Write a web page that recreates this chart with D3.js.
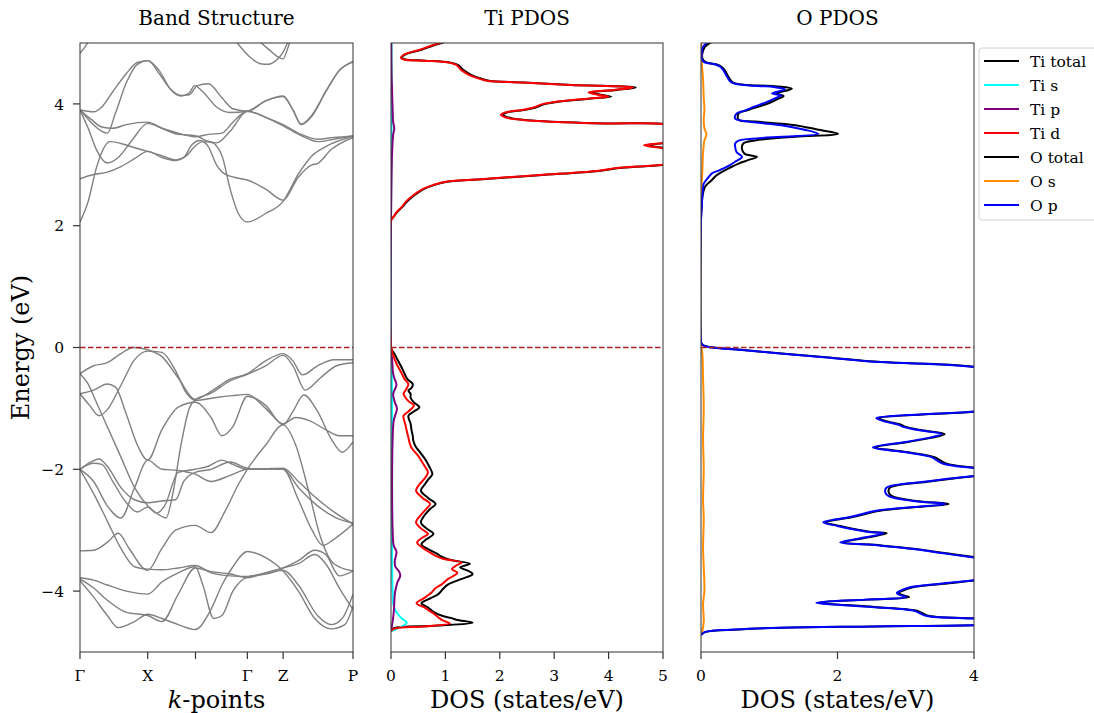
<!DOCTYPE html>
<html><head><meta charset="utf-8">
<script src="https://cdn.jsdelivr.net/npm/d3@7"></script>
<style>
body{margin:0;background:#fff}
svg{display:block}
text{font-family:"DejaVu Serif",serif;fill:#000}
</style>
</head><body>
<svg id="chart" width="1094" height="713"></svg>
<script>
// ---------- band structure: [k (fraction of path), E (eV)] ----------
const kTicks = [0, 0.248, 0.423, 0.613, 0.744, 1.0];
const kLabels = ["Γ", "X", "", "Γ", "Z", "P"];

const bands = [
  // valence
  [[0,-0.43],[0.05,-0.3],[0.1,-0.25],[0.15,-0.1],[0.195,0.0],[0.248,-0.04],[0.3,-0.15],[0.36,-0.5],[0.422,-0.85],[0.48,-0.72],[0.55,-0.52],[0.613,-0.43],[0.68,-0.22],[0.744,-0.1],[0.78,-0.22],[0.815,-0.45],[0.87,-0.3],[0.93,-0.2],[1,-0.2]],
  [[0,-0.76],[0.035,-0.95],[0.07,-1.12],[0.1,-1.02],[0.15,-0.62],[0.2,-0.2],[0.248,-0.06],[0.3,-0.08],[0.35,-0.38],[0.39,-0.75],[0.422,-0.87],[0.5,-0.82],[0.56,-0.79],[0.613,-0.77],[0.68,-1.0],[0.744,-1.25],[0.79,-1.15],[0.84,-1.2],[0.9,-1.35],[0.95,-1.45],[1,-1.45]],
  [[0,-0.43],[0.03,-0.6],[0.06,-0.9],[0.1,-1.3],[0.15,-1.8],[0.2,-2.3],[0.248,-2.6],[0.29,-2.75],[0.315,-2.8],[0.34,-2.4],[0.37,-1.6],[0.4,-1.0],[0.422,-0.86],[0.48,-0.75],[0.55,-0.55],[0.613,-0.44],[0.68,-0.3],[0.744,-0.13],[0.78,-0.3],[0.825,-0.7],[0.88,-0.5],[0.94,-0.3],[1,-0.25]],
  [[0,-0.76],[0.05,-0.7],[0.1,-0.6],[0.13,-0.65],[0.17,-1.1],[0.21,-1.6],[0.248,-1.85],[0.3,-1.35],[0.36,-0.98],[0.422,-0.9],[0.48,-1.15],[0.52,-1.45],[0.56,-1.3],[0.613,-0.8],[0.68,-0.95],[0.744,-1.27],[0.78,-1.05],[0.82,-0.78],[0.87,-1.05],[0.92,-1.5],[0.96,-1.72],[1,-1.55]],
  [[0,-2.0],[0.04,-1.88],[0.07,-1.83],[0.1,-1.95],[0.15,-2.3],[0.2,-2.5],[0.248,-2.55],[0.3,-2.52],[0.35,-2.5],[0.38,-2.2],[0.422,-2.05],[0.48,-2.0],[0.55,-1.88],[0.613,-1.98],[0.68,-2.0],[0.744,-2.0],[0.8,-2.3],[0.87,-2.6],[0.94,-2.8],[1,-2.88]],
  [[0,-2.0],[0.05,-1.9],[0.08,-1.92],[0.12,-2.2],[0.17,-2.55],[0.21,-2.7],[0.248,-2.62],[0.28,-2.72],[0.31,-2.6],[0.36,-2.05],[0.422,-2.0],[0.47,-1.95],[0.52,-1.85],[0.56,-1.92],[0.613,-2.0],[0.68,-2.0],[0.744,-2.0],[0.8,-2.5],[0.85,-3.0],[0.89,-3.25],[0.93,-3.15],[1,-2.9]],
  [[0,-2.0],[0.05,-2.2],[0.1,-2.6],[0.15,-2.8],[0.2,-2.3],[0.248,-1.85],[0.3,-2.0],[0.36,-2.02],[0.422,-2.08],[0.48,-2.2],[0.55,-2.1],[0.613,-2.0],[0.68,-1.99],[0.744,-1.98],[0.8,-2.2],[0.86,-2.45],[0.93,-2.7],[1,-2.9]],
  [[0,-2.0],[0.05,-2.4],[0.1,-2.85],[0.15,-3.3],[0.2,-3.6],[0.248,-3.64],[0.3,-3.65],[0.36,-3.62],[0.422,-3.58],[0.48,-3.7],[0.55,-3.75],[0.613,-3.76],[0.68,-3.7],[0.744,-3.62],[0.8,-3.5],[0.86,-3.33],[0.9,-3.4],[0.95,-3.75],[1,-3.67]],
  [[0,-3.34],[0.05,-3.33],[0.1,-3.2],[0.14,-3.05],[0.18,-3.3],[0.248,-3.66],[0.3,-3.3],[0.35,-3.0],[0.422,-2.92],[0.48,-3.04],[0.53,-2.7],[0.58,-2.25],[0.613,-2.0],[0.68,-1.6],[0.744,-1.27],[0.79,-1.6],[0.84,-2.4],[0.88,-3.1],[0.93,-3.55],[1,-3.67]],
  [[0,-3.78],[0.05,-3.82],[0.1,-3.9],[0.17,-4.0],[0.248,-4.05],[0.3,-3.85],[0.36,-3.7],[0.422,-3.6],[0.45,-3.9],[0.49,-4.45],[0.52,-4.4],[0.56,-4.0],[0.613,-3.77],[0.68,-3.72],[0.744,-3.66],[0.8,-3.9],[0.87,-4.4],[0.92,-4.55],[0.96,-4.45],[1,-4.05]],
  [[0,-3.8],[0.05,-3.95],[0.1,-4.15],[0.17,-4.35],[0.248,-4.4],[0.3,-4.5],[0.36,-4.05],[0.422,-3.62],[0.48,-3.68],[0.55,-3.72],[0.613,-3.78],[0.68,-3.7],[0.744,-3.62],[0.8,-3.55],[0.86,-3.4],[0.9,-3.55],[0.95,-3.95],[1,-4.3]],
  [[0,-3.83],[0.05,-4.1],[0.1,-4.4],[0.14,-4.6],[0.2,-4.5],[0.248,-4.38],[0.3,-4.45],[0.36,-4.55],[0.422,-4.63],[0.48,-4.3],[0.52,-3.9],[0.56,-3.6],[0.613,-3.35],[0.68,-3.45],[0.744,-3.67],[0.8,-4.0],[0.86,-4.45],[0.92,-4.62],[0.97,-4.55],[1,-4.25]],
  // conduction
  [[0,2.06],[0.03,2.4],[0.06,2.95],[0.09,3.3],[0.11,3.38],[0.15,3.35],[0.2,3.28],[0.248,3.22],[0.3,3.15],[0.35,3.08],[0.39,3.15],[0.42,3.3],[0.45,3.38],[0.48,3.37],[0.52,3.15],[0.55,2.6],[0.58,2.2],[0.613,2.06],[0.68,2.2],[0.744,2.4],[0.8,2.85],[0.85,3.15],[0.9,3.3],[1,3.47]],
  [[0,2.77],[0.05,2.84],[0.1,2.88],[0.15,2.97],[0.2,3.1],[0.248,3.22],[0.3,3.12],[0.35,3.07],[0.38,3.12],[0.41,3.33],[0.44,3.4],[0.47,3.3],[0.5,3.0],[0.53,2.85],[0.58,2.78],[0.613,2.75],[0.68,2.6],[0.744,2.42],[0.8,2.8],[0.85,3.0],[0.87,3.02],[0.92,3.25],[1,3.45]],
  [[0,3.9],[0.03,3.6],[0.06,3.25],[0.1,3.03],[0.14,3.12],[0.19,3.4],[0.248,3.68],[0.3,3.6],[0.36,3.52],[0.422,3.46],[0.47,3.5],[0.52,3.52],[0.56,3.7],[0.613,3.88],[0.68,3.78],[0.744,3.66],[0.81,3.5],[0.87,3.42],[0.93,3.45],[1,3.47]],
  [[0,3.9],[0.04,3.7],[0.08,3.55],[0.1,3.52],[0.13,3.85],[0.17,4.35],[0.21,4.65],[0.248,4.71],[0.29,4.5],[0.33,4.25],[0.37,4.14],[0.4,4.15],[0.43,4.3],[0.47,4.33],[0.52,4.1],[0.56,3.92],[0.613,3.88],[0.68,4.05],[0.744,4.13],[0.78,3.9],[0.81,3.66],[0.85,3.8],[0.9,4.2],[0.95,4.55],[1,4.69]],
  [[0,3.9],[0.05,3.87],[0.08,3.95],[0.12,4.2],[0.17,4.5],[0.21,4.68],[0.248,4.71],[0.29,4.55],[0.33,4.25],[0.37,4.13],[0.4,4.18],[0.42,4.3],[0.45,4.2],[0.5,3.95],[0.55,3.86],[0.613,3.88],[0.68,4.05],[0.744,4.12],[0.78,3.9],[0.81,3.67],[0.85,3.82],[0.9,4.2],[0.95,4.55],[1,4.7]],
  [[0,3.9],[0.04,3.75],[0.08,3.62],[0.12,3.6],[0.17,3.66],[0.248,3.7],[0.3,3.6],[0.36,3.5],[0.422,3.48],[0.46,3.4],[0.5,3.36],[0.55,3.55],[0.613,3.88],[0.68,3.78],[0.744,3.64],[0.81,3.48],[0.87,3.38],[0.93,3.42],[1,3.48]],
  [[0,4.83],[0.02,4.95],[0.04,5.1],[0.06,5.3]],
  [[0.5,5.4],[0.56,5.1],[0.585,4.95],[0.62,4.78],[0.66,4.66],[0.69,4.65],[0.72,4.72],[0.744,4.85],[0.77,5.1],[0.8,5.3]],
  [[0.6,5.3],[0.64,5.1],[0.69,4.9],[0.73,4.76],[0.744,4.74],[0.76,4.9],[0.78,5.2]]
];

// ---------- projected DOS: [E (eV), DOS (states/eV)] ----------
const tiTotal = [[-4.66,0],[-4.61,0.05],[-4.57,0.8],[-4.52,1.5],[-4.47,1.2],[-4.44,1.1],[-4.41,0.95],[-4.34,0.78],[-4.27,0.68],[-4.2,0.56],[-4.12,0.72],[-4.05,0.87],[-3.97,0.95],[-3.89,1.05],[-3.8,1.3],[-3.72,1.5],[-3.66,1.4],[-3.61,1.27],[-3.55,1.45],[-3.49,1.1],[-3.43,0.92],[-3.39,0.85],[-3.32,0.7],[-3.23,0.56],[-3.15,0.65],[-3.06,0.78],[-2.97,0.65],[-2.87,0.55],[-2.75,0.62],[-2.65,0.72],[-2.57,0.82],[-2.47,0.68],[-2.35,0.55],[-2.25,0.62],[-2.15,0.7],[-2.08,0.76],[-1.95,0.7],[-1.85,0.64],[-1.75,0.56],[-1.62,0.45],[-1.53,0.41],[-1.45,0.4],[-1.37,0.38],[-1.25,0.36],[-1.12,0.32],[-1.05,0.42],[-0.98,0.52],[-0.9,0.42],[-0.82,0.36],[-0.76,0.36],[-0.71,0.32],[-0.66,0.38],[-0.6,0.4],[-0.52,0.3],[-0.43,0.25],[-0.3,0.18],[-0.2,0.12],[-0.1,0.06],[-0.03,0.01],[0.02,0],
  [2.08,0],[2.15,0.05],[2.22,0.11],[2.31,0.21],[2.4,0.3],[2.5,0.43],[2.6,0.6],[2.67,0.8],[2.72,1.03],[2.77,1.8],[2.83,2.72],[2.9,3.82],[2.95,4.25],[3.0,5.05],[3.08,5.65],[3.18,5.45],[3.27,5.05],[3.32,4.7],[3.36,5.05],[3.45,5.55],[3.6,5.35],[3.67,5.05],[3.68,3.95],[3.72,2.72],[3.76,2.23],[3.8,2.09],[3.82,2.06],[3.86,2.14],[3.9,2.44],[3.94,2.66],[4.0,2.84],[4.06,3.33],[4.1,3.84],[4.12,4.05],[4.15,3.85],[4.19,3.68],[4.23,4.15],[4.27,4.5],[4.31,3.33],[4.35,2.44],[4.38,1.8],[4.42,1.64],[4.47,1.49],[4.55,1.34],[4.64,1.23],[4.68,1.08],[4.71,0.63],[4.73,0.26],[4.76,0.2],[4.8,0.24],[4.83,0.31],[4.89,0.56],[4.95,0.75],[5.0,0.93],[5.1,1.33]];

const tiS = [[-4.66,0],[-4.6,0.15],[-4.52,0.29],[-4.45,0.2],[-4.38,0.13],[-4.3,0.07],[-4.2,0.04],[-4.0,0.03],[-3.6,0.02],[-3.0,0.02],[-2.0,0.02],[-1.0,0.02],[-0.5,0.015],[-0.2,0.01],[0,0],[2.1,0],[3.0,0.005],[4.0,0.01],[5.0,0.01]];

const tiP = [[-4.66,0],[-4.6,0.01],[-4.5,0.03],[-4.35,0.05],[-4.2,0.06],[-4.05,0.07],[-3.95,0.09],[-3.85,0.12],[-3.75,0.17],[-3.68,0.15],[-3.6,0.08],[-3.5,0.07],[-3.42,0.09],[-3.35,0.1],[-3.25,0.05],[-3.0,0.03],[-2.5,0.02],[-2.0,0.02],[-1.5,0.03],[-1.2,0.05],[-1.0,0.11],[-0.9,0.07],[-0.76,0.04],[-0.65,0.09],[-0.6,0.1],[-0.5,0.06],[-0.43,0.04],[-0.2,0.02],[0,0],[2.1,0],[2.8,0.01],[3.2,0.02],[3.5,0.04],[3.6,0.06],[3.7,0.04],[3.9,0.03],[4.2,0.02],[4.5,0.01],[5.0,0.005]];

const tiD = [[-4.66,0],[-4.62,0.05],[-4.58,0.6],[-4.53,1.08],[-4.48,0.95],[-4.44,0.88],[-4.38,0.8],[-4.32,0.7],[-4.27,0.62],[-4.2,0.47],[-4.12,0.6],[-4.02,0.75],[-3.95,0.82],[-3.89,0.93],[-3.8,1.05],[-3.7,1.22],[-3.64,1.12],[-3.58,1.2],[-3.53,1.3],[-3.47,0.95],[-3.42,0.82],[-3.39,0.76],[-3.3,0.6],[-3.2,0.48],[-3.12,0.58],[-3.06,0.68],[-2.97,0.55],[-2.87,0.46],[-2.75,0.55],[-2.65,0.65],[-2.57,0.72],[-2.47,0.58],[-2.35,0.46],[-2.25,0.52],[-2.15,0.62],[-2.05,0.68],[-1.95,0.62],[-1.85,0.55],[-1.78,0.5],[-1.65,0.38],[-1.59,0.35],[-1.48,0.32],[-1.37,0.29],[-1.25,0.26],[-1.12,0.23],[-1.05,0.32],[-0.95,0.42],[-0.88,0.32],[-0.8,0.25],[-0.76,0.23],[-0.7,0.27],[-0.6,0.32],[-0.52,0.25],[-0.43,0.2],[-0.3,0.12],[-0.2,0.07],[-0.1,0.03],[-0.03,0.01],[0.02,0],
  [2.08,0],[2.15,0.05],[2.22,0.1],[2.31,0.2],[2.4,0.28],[2.5,0.41],[2.6,0.58],[2.67,0.78],[2.72,1.0],[2.77,1.76],[2.83,2.68],[2.9,3.78],[2.95,4.2],[3.0,5.0],[3.08,5.6],[3.18,5.4],[3.27,5.0],[3.32,4.65],[3.36,5.0],[3.45,5.5],[3.6,5.3],[3.67,5.0],[3.68,3.9],[3.72,2.68],[3.76,2.19],[3.8,2.05],[3.82,2.02],[3.86,2.1],[3.9,2.4],[3.94,2.62],[4.0,2.8],[4.06,3.29],[4.1,3.8],[4.12,4.0],[4.15,3.8],[4.19,3.63],[4.23,4.1],[4.27,4.45],[4.31,3.29],[4.35,2.4],[4.38,1.76],[4.42,1.6],[4.47,1.45],[4.55,1.3],[4.64,1.2],[4.68,1.05],[4.71,0.6],[4.73,0.23],[4.76,0.18],[4.8,0.22],[4.83,0.29],[4.89,0.53],[4.95,0.72],[5.0,0.9],[5.1,1.3]];

const oTotal = [[-4.72,0],[-4.67,0.07],[-4.63,0.55],[-4.6,1.2],[-4.58,2.55],[-4.56,4.05],[-4.52,5.05],[-4.48,4.65],[-4.45,4.05],[-4.41,3.35],[-4.36,3.24],[-4.32,3.15],[-4.26,2.54],[-4.19,1.72],[-4.14,2.44],[-4.1,3.05],[-4.06,2.94],[-4.03,2.9],[-3.98,2.99],[-3.94,3.09],[-3.88,3.55],[-3.82,4.05],[-3.7,4.85],[-3.55,4.65],[-3.45,4.05],[-3.38,3.6],[-3.31,3.15],[-3.25,2.64],[-3.2,2.08],[-3.14,2.34],[-3.05,2.72],[-3.03,2.5],[-2.98,2.24],[-2.93,2.04],[-2.87,1.83],[-2.78,2.24],[-2.68,2.62],[-2.62,3.15],[-2.57,3.63],[-2.52,3.15],[-2.44,2.8],[-2.38,2.75],[-2.3,2.77],[-2.2,3.35],[-2.11,4.05],[-2.05,4.65],[-1.98,4.05],[-1.94,3.75],[-1.91,3.6],[-1.85,3.5],[-1.8,3.42],[-1.72,3.04],[-1.64,2.56],[-1.55,3.04],[-1.48,3.39],[-1.42,3.57],[-1.36,3.24],[-1.3,2.99],[-1.27,2.94],[-1.2,2.69],[-1.16,2.61],[-1.1,3.24],[-1.05,4.05],[-0.9,4.85],[-0.6,5.25],[-0.32,4.04],[-0.24,2.65],[-0.16,1.83],[-0.1,1.18],[-0.04,0.62],[0.02,0.07],[0.06,0.01],[0.1,0],
  [2.1,0],[2.3,0.01],[2.47,0.02],[2.64,0.06],[2.75,0.16],[2.82,0.22],[2.88,0.3],[2.95,0.42],[3.02,0.55],[3.08,0.7],[3.13,0.82],[3.18,0.64],[3.26,0.6],[3.35,0.62],[3.4,0.79],[3.46,1.38],[3.51,2.01],[3.58,1.7],[3.65,1.38],[3.71,0.79],[3.74,0.55],[3.84,0.55],[3.9,0.69],[4.01,0.99],[4.08,1.12],[4.13,1.21],[4.17,1.11],[4.25,1.33],[4.29,1.08],[4.35,0.47],[4.45,0.4],[4.55,0.35],[4.61,0.3],[4.65,0.22],[4.69,0.06],[4.75,0.02],[4.83,0.02],[4.94,0.06],[5.02,0.16],[5.1,0.25]];

const oS = [[-4.72,0],[-4.65,0.02],[-4.5,0.04],[-4.2,0.03],[-4.0,0.05],[-3.6,0.04],[-3.3,0.03],[-2.8,0.04],[-2.5,0.03],[-2.0,0.04],[-1.5,0.03],[-1.0,0.04],[-0.5,0.03],[-0.1,0.02],[0.05,0],[2.2,0],[2.7,0.01],[2.9,0.02],[3.2,0.03],[3.4,0.05],[3.5,0.08],[3.6,0.05],[3.75,0.04],[3.9,0.05],[4.1,0.04],[4.4,0.03],[4.7,0.01],[5.0,0]];

const oP = [[-4.72,0],[-4.67,0.06],[-4.63,0.5],[-4.6,1.16],[-4.58,2.5],[-4.56,4.0],[-4.52,5.0],[-4.48,4.6],[-4.45,4.0],[-4.41,3.31],[-4.36,3.2],[-4.32,3.11],[-4.26,2.5],[-4.19,1.69],[-4.14,2.4],[-4.1,3.01],[-4.06,2.9],[-4.03,2.87],[-3.98,2.95],[-3.94,3.05],[-3.88,3.5],[-3.82,4.0],[-3.7,4.8],[-3.55,4.6],[-3.45,4.0],[-3.38,3.55],[-3.31,3.11],[-3.25,2.6],[-3.2,2.04],[-3.14,2.3],[-3.05,2.67],[-3.03,2.45],[-2.98,2.2],[-2.93,2.0],[-2.87,1.79],[-2.78,2.2],[-2.68,2.57],[-2.62,3.1],[-2.57,3.58],[-2.52,3.1],[-2.44,2.75],[-2.38,2.7],[-2.3,2.72],[-2.2,3.3],[-2.11,4.0],[-2.05,4.6],[-1.98,4.0],[-1.94,3.7],[-1.91,3.55],[-1.85,3.45],[-1.8,3.38],[-1.72,3.0],[-1.64,2.52],[-1.55,3.0],[-1.48,3.35],[-1.42,3.53],[-1.36,3.2],[-1.3,2.95],[-1.27,2.9],[-1.2,2.65],[-1.16,2.57],[-1.1,3.2],[-1.05,4.0],[-0.9,4.8],[-0.6,5.2],[-0.32,4.0],[-0.24,2.62],[-0.16,1.8],[-0.1,1.16],[-0.04,0.6],[0.02,0.06],[0.06,0.01],[0.1,0],
  [2.1,0],[2.3,0.01],[2.5,0.02],[2.62,0.03],[2.69,0.04],[2.78,0.1],[2.86,0.16],[2.9,0.25],[2.94,0.33],[3.0,0.43],[3.05,0.5],[3.13,0.6],[3.21,0.52],[3.3,0.5],[3.35,0.5],[3.4,0.56],[3.44,0.9],[3.46,1.18],[3.51,1.72],[3.58,1.5],[3.65,1.18],[3.71,0.69],[3.76,0.5],[3.84,0.52],[3.89,0.64],[3.95,0.77],[4.03,0.96],[4.1,1.1],[4.14,1.18],[4.17,1.04],[4.24,1.23],[4.28,1.04],[4.35,0.45],[4.45,0.38],[4.55,0.33],[4.61,0.28],[4.65,0.2],[4.69,0.04],[4.75,0.01],[4.83,0.01],[4.94,0.03],[5.02,0.11],[5.1,0.2]];

const energyTicks = [-4, -2, 0, 2, 4];
const tiTicks = [0, 1, 2, 3, 4, 5];
const oTicks = [0, 2, 4];

const legendItems = [
  {label: "Ti total", color: "#000000"},
  {label: "Ti s", color: "#00ffff"},
  {label: "Ti p", color: "#800080"},
  {label: "Ti d", color: "#ff0000"},
  {label: "O total", color: "#000000"},
  {label: "O s", color: "#ff8c00"},
  {label: "O p", color: "#0000ff"}
];

// ---------- layout ----------
const svg = d3.select("#chart");
const plotTop = 43, plotBottom = 652;
const y = d3.scaleLinear().domain([-5, 5]).range([plotBottom, plotTop]);
const xBand = d3.scaleLinear().domain([0, 1]).range([80, 353]);
const xTi = d3.scaleLinear().domain([0, 5]).range([391, 663]);
const xO = d3.scaleLinear().domain([0, 4]).range([701, 974]);

const spine = "#333333";
const defs = svg.append("defs");

function makePanel(id, x) {
  const [x0, x1] = x.range();
  defs.append("clipPath").attr("id", id)
    .append("rect").attr("x", x0).attr("y", plotTop).attr("width", x1 - x0).attr("height", plotBottom - plotTop);
  const g = svg.append("g");
  const inner = g.append("g").attr("clip-path", `url(#${id})`);
  return {g, inner, x0, x1};
}

// dashed Fermi level at E = 0
function fermi(p) {
  p.inner.append("line")
    .attr("x1", p.x0).attr("x2", p.x1).attr("y1", y(0)).attr("y2", y(0))
    .attr("stroke", "#b22222").attr("stroke-width", 1.3).attr("stroke-dasharray", "5.5,2.5");
}

function frame(p) {
  p.g.append("rect").attr("x", p.x0).attr("y", plotTop)
    .attr("width", p.x1 - p.x0).attr("height", plotBottom - plotTop)
    .attr("fill", "none").attr("stroke", spine).attr("stroke-width", 1);
}

function xAxis(p, scale, ticks, labels) {
  const ax = p.g.append("g");
  ticks.forEach((t, i) => {
    const xx = scale(t);
    ax.append("line").attr("x1", xx).attr("x2", xx).attr("y1", plotBottom).attr("y2", plotBottom + 7)
      .attr("stroke", spine).attr("stroke-width", 1.2);
    ax.append("text").attr("x", xx).attr("y", plotBottom + 29).attr("text-anchor", "middle")
      .attr("font-size", 15.5).text(labels ? labels[i] : t);
  });
}

function title(p, txt) {
  svg.append("text").attr("x", (p.x0 + p.x1) / 2).attr("y", 25).attr("text-anchor", "middle")
    .attr("font-size", 20).text(txt);
}

// ---------- band structure panel ----------
const pb = makePanel("clipBand", xBand);
const bandLine = d3.line().x(d => xBand(d[0])).y(d => y(d[1])).curve(d3.curveMonotoneX);
pb.inner.selectAll("path.band").data(bands).join("path")
  .attr("class", "band").attr("d", bandLine)
  .attr("fill", "none").attr("stroke", "#808080").attr("stroke-width", 1.4);
fermi(pb);
frame(pb);
xAxis(pb, xBand, kTicks, kLabels);
energyTicks.forEach(t => {
  pb.g.append("line").attr("x1", 73).attr("x2", 80).attr("y1", y(t)).attr("y2", y(t))
    .attr("stroke", spine).attr("stroke-width", 1.2);
  pb.g.append("text").attr("x", 64).attr("y", y(t) + 5.6).attr("text-anchor", "end")
    .attr("font-size", 15.5).text(t < 0 ? "\u2212" + Math.abs(t) : t);
});
title(pb, "Band Structure");
const kl = svg.append("text").attr("x", (pb.x0 + pb.x1) / 2).attr("y", 708)
  .attr("text-anchor", "middle").attr("font-size", 24);
kl.append("tspan").attr("font-style", "italic").text("k");
kl.append("tspan").text("-points");
svg.append("text").attr("transform", `translate(29,${y(0)}) rotate(-90)`)
  .attr("text-anchor", "middle").attr("font-size", 24).text("Energy (eV)");

// ---------- DOS panels ----------
function dosPanel(id, x, series, ticks, name) {
  const p = makePanel(id, x);
  const line = d3.line().x(d => x(d[1])).y(d => y(d[0])).curve(d3.curveCatmullRom.alpha(0.5));
  series.forEach(s => {
    p.inner.append("path").attr("d", line(s.data))
      .attr("fill", "none").attr("stroke", s.color).attr("stroke-width", 2)
      .attr("stroke-linejoin", "round");
  });
  fermi(p);
  frame(p);
  xAxis(p, x, ticks);
  title(p, name);
  svg.append("text").attr("x", (p.x0 + p.x1) / 2).attr("y", 708)
    .attr("text-anchor", "middle").attr("font-size", 24).text("DOS (states/eV)");
}

dosPanel("clipTi", xTi, [
  {data: tiTotal, color: "#000000"},
  {data: tiS, color: "#00ffff"},
  {data: tiP, color: "#800080"},
  {data: tiD, color: "#ff0000"}
], tiTicks, "Ti PDOS");

dosPanel("clipO", xO, [
  {data: oTotal, color: "#000000"},
  {data: oS, color: "#ff8c00"},
  {data: oP, color: "#0000ff"}
], oTicks, "O PDOS");

// ---------- legend ----------
const lg = svg.append("g");
lg.append("rect").attr("x", 979).attr("y", 48).attr("width", 130).attr("height", 172)
  .attr("rx", 3).attr("fill", "#ffffff").attr("fill-opacity", 0.8)
  .attr("stroke", "#d0d0d0").attr("stroke-width", 1);
legendItems.forEach((it, i) => {
  const yy = 61 + i * 24;
  lg.append("line").attr("x1", 984).attr("x2", 1019).attr("y1", yy).attr("y2", yy)
    .attr("stroke", it.color).attr("stroke-width", 2);
  lg.append("text").attr("x", 1030).attr("y", yy + 5.5).attr("font-size", 15.5).text(it.label);
});
</script>
</body></html>
